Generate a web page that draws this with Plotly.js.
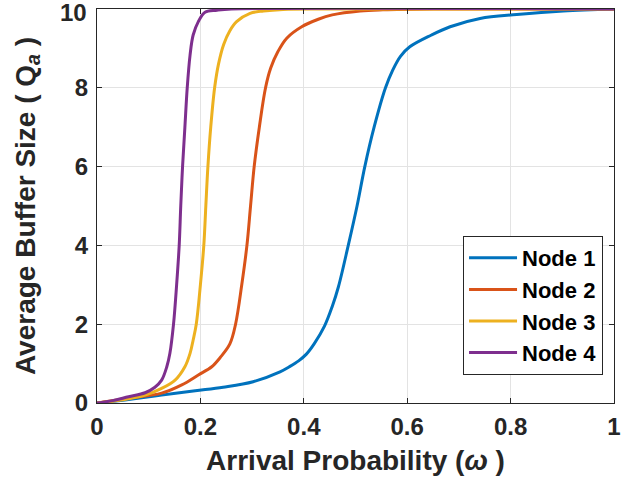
<!DOCTYPE html>
<html>
<head>
<meta charset="utf-8">
<script src="https://cdn.plot.ly/plotly-3.0.1.min.js"></script>
<style>html,body{margin:0;padding:0;background:#fff;}#chart{width:624px;height:485px;}</style>
</head>
<body>
<div id="chart"></div>
<script>
// Node 1 (blue)
var x1 = [0, 0.061, 0.125, 0.190, 0.244, 0.302, 0.354, 0.372, 0.390, 0.405, 0.420, 0.440, 0.455, 0.467, 0.486, 0.503, 0.518, 0.536, 0.558, 0.572, 0.587, 0.605, 0.647, 0.683, 0.741, 0.812, 0.902, 1];
var y1 = [0, 0.09, 0.20, 0.31, 0.40, 0.54, 0.79, 0.92, 1.07, 1.24, 1.5, 1.95, 2.45, 2.95, 4.0, 5.0, 6.0, 7.0, 8.0, 8.45, 8.8, 9.04, 9.34, 9.55, 9.76, 9.86, 9.95, 10];
// Node 2 (orange)
var x2 = [0, 0.061, 0.125, 0.164, 0.196, 0.222, 0.238, 0.257, 0.268, 0.280, 0.290, 0.297, 0.304, 0.314, 0.326, 0.336, 0.350, 0.367, 0.396, 0.428, 0.455, 0.509, 0.553, 0.65, 1];
var y2 = [0, 0.12, 0.25, 0.46, 0.71, 0.92, 1.15, 1.5, 2.0, 3.0, 4.0, 5.0, 6.0, 7.0, 8.0, 8.5, 8.92, 9.26, 9.55, 9.74, 9.85, 9.95, 9.98, 10, 10];
// Node 3 (yellow)
var x3 = [0, 0.05, 0.093, 0.125, 0.151, 0.170, 0.180, 0.186, 0.192, 0.200, 0.2066, 0.2105, 0.2145, 0.220, 0.2275, 0.235, 0.245, 0.257, 0.270, 0.296, 0.322, 0.36, 0.45, 1];
var y3 = [0, 0.08, 0.20, 0.37, 0.58, 0.92, 1.26, 1.6, 2.0, 3.0, 4.0, 5.0, 6.0, 7.0, 8.0, 8.6, 9.1, 9.45, 9.68, 9.89, 9.95, 9.99, 10, 10];
// Node 4 (purple)
var x4 = [0, 0.03, 0.061, 0.093, 0.112, 0.125, 0.135, 0.141, 0.148, 0.154, 0.159, 0.162, 0.1655, 0.170, 0.1745, 0.180, 0.186, 0.196, 0.209, 0.232, 0.26, 1];
var y4 = [0, 0.06, 0.16, 0.26, 0.40, 0.58, 0.92, 1.26, 2.0, 3.0, 4.0, 5.0, 6.0, 7.0, 8.0, 8.83, 9.34, 9.68, 9.92, 9.97, 10, 10];

var names = ["Node 1", "Node 2", "Node 3", "Node 4"];
var colors = ["#0072BD", "#D95319", "#EDB120", "#7E2F8E"];
var xs = [x1, x2, x3, x4];
var ys = [y1, y2, y3, y4];

var xTicks = [0, 0.2, 0.4, 0.6, 0.8, 1];
var xTickText = ["0", "0.2", "0.4", "0.6", "0.8", "1"];
var yTicks = [0, 2, 4, 6, 8, 10];
var yTickText = ["0", "2", "4", "6", "8", "10"];

var FONT = "Liberation Sans, Arial, Helvetica, sans-serif";

var traces = xs.map(function (x, i) {
  return {
    x: x, y: ys[i], name: names[i], type: "scatter", mode: "lines",
    line: {color: colors[i], width: 3, shape: "spline", smoothing: 1}
  };
});

var tickFont = {family: FONT, size: 24, color: "#262626", weight: "bold"};

var axisCommon = {
  showline: true, linecolor: "#262626", linewidth: 1,
  mirror: "ticks", ticks: "inside", ticklen: 5, tickcolor: "#262626", tickwidth: 1,
  showgrid: true, gridcolor: "#e3e3e3", gridwidth: 1,
  zeroline: false, automargin: false,
  tickfont: tickFont
};

// the top y label is drawn as an annotation so it sits inside the figure, as in the reference
var lastY = yTicks.length - 1;
var yTickTextShown = yTickText.map(function (t, i) { return i === lastY ? "" : t; });

var layout = {
  width: 624, height: 485,
  margin: {l: 97, r: 10, t: 9, b: 82},
  paper_bgcolor: "#ffffff", plot_bgcolor: "#ffffff",
  showlegend: true,
  xaxis: Object.assign({}, axisCommon, {
    range: [0, 1], tickvals: xTicks, ticktext: xTickText, ticklabelstandoff: 2,
    title: {text: "Arrival Probability (<i>ω</i> )", standoff: 11,
            font: {family: FONT, size: 28, color: "#262626", weight: "bold"}}
  }),
  yaxis: Object.assign({}, axisCommon, {
    range: [0, 10], tickvals: yTicks, ticktext: yTickTextShown, ticklabelstandoff: 3,
    title: {text: "Average Buffer Size ( Q<sub><i>a</i></sub> )", standoff: 31,
            font: {family: FONT, size: 28, color: "#262626", weight: "bold"}}
  }),
  annotations: [{
    xref: "paper", x: 0, xanchor: "right", xshift: -8,
    yref: "y", y: yTicks[lastY], yanchor: "middle", yshift: -3,
    text: yTickText[lastY], showarrow: false, font: tickFont
  }],
  legend: {
    x: 0.708, y: 0.4239, xanchor: "left", yanchor: "top",
    bgcolor: "#ffffff", bordercolor: "#262626", borderwidth: 1,
    font: {family: FONT, size: 22, color: "#000000", weight: "bold"},
    itemwidth: 48, tracegroupgap: 0
  }
};

Plotly.newPlot("chart", traces, layout, {displayModeBar: false, staticPlot: true});
</script>
</body>
</html>
